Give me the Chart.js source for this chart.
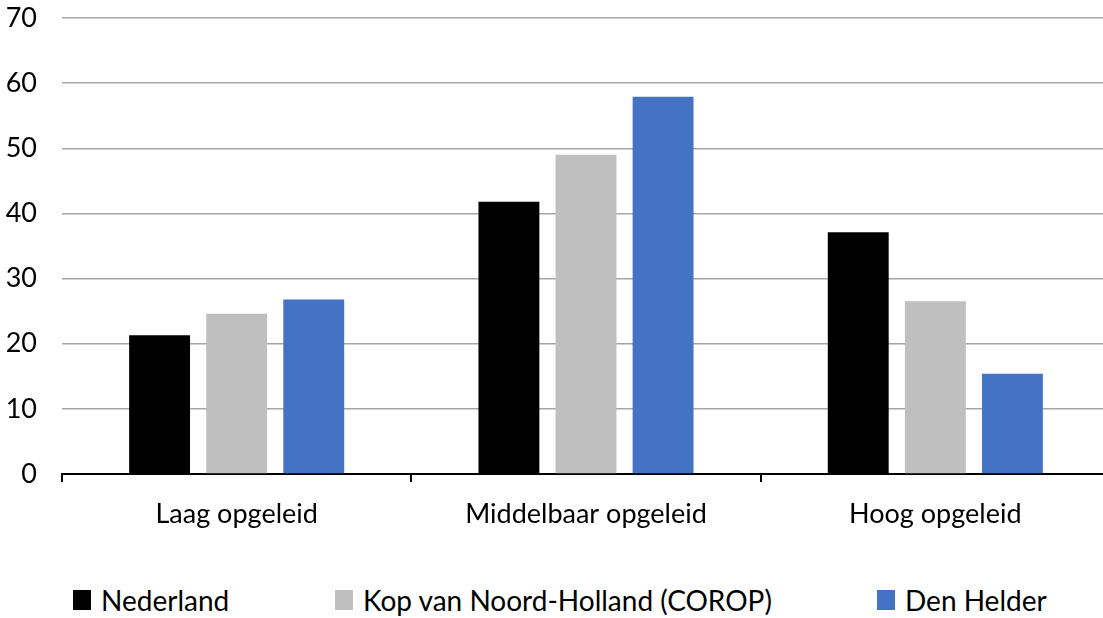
<!DOCTYPE html>
<html>
<head>
<meta charset="utf-8">
<script src="https://cdn.jsdelivr.net/npm/chart.js@4"></script>
<style>
  html, body { margin: 0; padding: 0; background: #fff; overflow: hidden; }
  #wrap { position: relative; width: 1110px; height: 560px; }
  #legend { position: absolute; top: 582px; left: 0; width: 1103px; height: 36px;
    font-family: Lato, "Liberation Sans", sans-serif; font-size: 28px; color: #000; }
  .item { position: absolute; top: 0; display: flex; align-items: center; height: 36px; white-space: nowrap; }
  .box { width: 18px; height: 20px; margin-right: 10px; }
</style>
</head>
<body>
<div id="wrap"><canvas id="chart"></canvas></div>
<div id="legend"></div>
<script>
const categories = ['Laag opgeleid', 'Middelbaar opgeleid', 'Hoog opgeleid'];
const seriesNames = ['Nederland', 'Kop van Noord-Holland (COROP)', 'Den Helder'];
const nederland = [21.3, 41.8, 37.1];
const kopVanNoordHolland = [24.6, 49.0, 26.5];
const denHelder = [26.8, 57.9, 15.4];
const yTicks = [0, 10, 20, 30, 40, 50, 60, 70];

const colors = ['#000000', '#bfbfbf', '#4472c4'];
const legendLeft = [73, 335, 877];
const values = [nederland, kopVanNoordHolland, denHelder];

const font = { family: 'Lato, "Liberation Sans", sans-serif', size: 27 };

new Chart(document.getElementById('chart'), {
  type: 'bar',
  data: {
    labels: categories,
    datasets: seriesNames.map((name, i) => ({
      label: name,
      data: values[i],
      backgroundColor: colors[i],
      categoryPercentage: 0.662,
      barPercentage: 0.79
    }))
  },
  options: {
    responsive: true,
    maintainAspectRatio: false,
    animation: false,
    layout: { padding: { top: 18, right: 0, left: 0, bottom: 0 } },
    plugins: { legend: { display: false }, tooltip: { enabled: false } },
    scales: {
      x: {
        grid: { offset: true, drawOnChartArea: false, color: '#000', lineWidth: 2, tickLength: 8 },
        border: { color: '#000', width: 2 },
        ticks: { font: font, color: '#000', padding: 16 },
        afterFit: s => { s.height = 86; s.paddingLeft = 0; s.paddingRight = 0; }
      },
      y: {
        min: 0, max: 70,
        afterBuildTicks: s => { s.ticks = yTicks.map(v => ({ value: v })); },
        grid: { color: '#a6a6a6', lineWidth: 1.5, drawTicks: false },
        border: { display: false },
        ticks: { font: font, color: '#000', padding: 25 },
        afterFit: s => { s.width = 62; s.paddingTop = 0; s.paddingBottom = 0; }
      }
    }
  }
});

const legend = document.getElementById('legend');
seriesNames.forEach((name, i) => {
  const item = document.createElement('div');
  item.className = 'item';
  item.style.left = legendLeft[i] + 'px';
  item.innerHTML = '<span class="box" style="background:' + colors[i] + '"></span>' + name;
  legend.appendChild(item);
});
</script>
</body>
</html>
